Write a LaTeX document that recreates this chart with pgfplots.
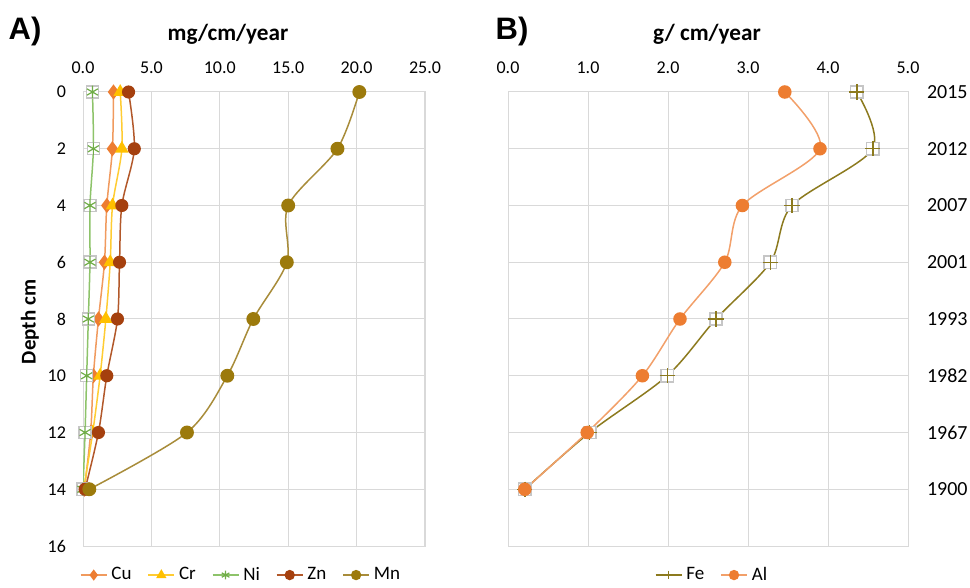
\documentclass[border=0pt]{standalone}
\usepackage{pgfplots}
\pgfplotsset{compat=1.18}
\usepackage{fontspec}
\setmainfont{Carlito}
\newfontfamily\arialb{Liberation Sans}
\definecolor{cu}{HTML}{ED7D31}
\definecolor{culine}{HTML}{F09A5E}
\definecolor{cr}{HTML}{FFC000}
\definecolor{crline}{HTML}{FFCC33}
\definecolor{ni}{HTML}{70AD47}
\definecolor{niline}{HTML}{8DC36A}
\definecolor{zn}{HTML}{A5400E}
\definecolor{znline}{HTML}{B2582A}
\definecolor{mn}{HTML}{9C7A0C}
\definecolor{mnline}{HTML}{A88C3A}
\definecolor{fe}{HTML}{8C7A1E}
\definecolor{al}{HTML}{ED7D31}
\definecolor{alline}{HTML}{F2A06A}
\definecolor{gridc}{HTML}{D9D9D9}
\begin{document}
\begin{tikzpicture}
\useasboundingbox (0pt,0pt) rectangle (485pt,294pt);
\pgfplotsset{
 common/.style={
  scale only axis, anchor=south west, height=227pt,
  y dir=reverse, ymin=0, ymax=16, ytick={0,2,...,16},
  xticklabel pos=upper,
  grid=major, major grid style={draw=gridc, line width=0.5pt},
  axis line style={draw=gridc, line width=0.5pt}, tick style={draw=none}, major tick length=0pt,
  tick label style={font=\fontsize{9}{10}\selectfont},
  /pgf/number format/assume math mode=true,
  x tick label style={yshift=5.5pt, /pgf/number format/.cd, fixed, fixed zerofill, precision=1, assume math mode=true},
  legend style={draw=none, fill=none, legend columns=-1, font=\fontsize{9.5}{10}\selectfont, anchor=center,
    /tikz/every even column/.append style={column sep=6pt}},
  legend image code/.code={\draw[mark repeat=2, mark phase=2, #1] plot coordinates {(0pt,0pt) (6.5pt,0pt) (13pt,0pt)};},
  legend image post style={mark size=2.2pt},
  every axis plot/.append style={line width=0.75pt, smooth, tension=0.5},
 }
}
% Panel A
\begin{axis}[common, at={(41.5pt,21pt)}, width=171pt,
  xmin=0, xmax=25, xtick={0,5,...,25},
  y tick label style={xshift=-5pt},
  legend style={at={(0.465,-0.064)}}]
\addplot[culine, mark=diamond*, mark size=3.2pt, mark options={fill=cu, draw=cu, solid}] coordinates {
 (2.23,0) (2.15,2) (1.74,4) (1.57,6) (1.13,8) (0.76,10) (0.56,12) (0.1,14)};
\addlegendentry{Cu}
\addplot[crline, mark=triangle*, mark size=3.2pt, mark options={fill=cr, draw=cr, solid}] coordinates {
 (2.72,0) (2.84,2) (2.16,4) (1.99,6) (1.67,8) (1.25,10) (0.71,12) (0.05,14)};
\addlegendentry{Cr}
\addplot[only marks, forget plot, mark=square*, mark size=3pt, mark options={fill=white, draw=gray!45}] coordinates {
 (0.69,0) (0.76,2) (0.51,4) (0.51,6) (0.39,8) (0.27,10) (0.15,12) (0.0,14)};
\addplot[niline, mark=asterisk, mark size=3.2pt, mark options={draw=ni, solid, line width=0.6pt}] coordinates {
 (0.69,0) (0.76,2) (0.51,4) (0.51,6) (0.39,8) (0.27,10) (0.15,12) (0.0,14)};
\addlegendentry{Ni}
\addplot[znline, mark=*, mark size=2.9pt, mark options={fill=zn, draw=zn, solid}] coordinates {
 (3.33,0) (3.75,2) (2.84,4) (2.67,6) (2.52,8) (1.74,10) (1.13,12) (0.15,14)};
\addlegendentry{Zn}
\addplot[mnline, mark=*, mark size=3.1pt, mark options={fill=mn, draw=mn, solid}] coordinates {
 (20.2,0) (18.6,2) (15.0,4) (14.9,6) (12.45,8) (10.55,10) (7.6,12) (0.46,14)};
\addlegendentry{Mn}
\end{axis}
% Panel B
\begin{axis}[common, at={(254pt,21pt)}, width=200pt,
  xmin=0, xmax=5, xtick={0,1,...,5},
  yticklabel pos=upper,
  yticklabels={2015,2012,2007,2001,1993,1982,1967,1900,{}},
  y tick label style={xshift=6pt, font=\fontsize{10}{11}\selectfont},
  legend style={at={(0.5125,-0.064)}}]
\addplot[only marks, forget plot, mark=square*, mark size=3.1pt, mark options={fill=white, draw=gray!45}] coordinates {
 (4.36,0) (4.56,2) (3.55,4) (3.28,6) (2.6,8) (1.99,10) (1.02,12) (0.21,14)};
\addplot[fe, mark=+, mark size=3.8pt, mark options={draw=fe, solid, line width=0.7pt}] coordinates {
 (4.36,0) (4.56,2) (3.55,4) (3.28,6) (2.6,8) (1.99,10) (1.02,12) (0.21,14)};
\addlegendentry{Fe}
\addplot[alline, mark=*, mark size=3.0pt, mark options={fill=al, draw=al, solid}] coordinates {
 (3.46,0) (3.9,2) (2.93,4) (2.71,6) (2.15,8) (1.68,10) (0.99,12) (0.21,14)};
\addlegendentry{Al}
\end{axis}
\node[font=\fontsize{15.5}{17}\selectfont\arialb\bfseries] at (12.5pt,278.5pt) {A)};
\node[font=\fontsize{11.6}{13}\selectfont\bfseries] at (114pt,277pt) {mg/cm/year};
\node[font=\fontsize{15.5}{17}\selectfont\arialb\bfseries] at (256pt,278.5pt) {B)};
\node[font=\fontsize{11.6}{13}\selectfont\bfseries] at (353.5pt,277pt) {g/ cm/year};
\node[font=\fontsize{10.5}{12}\selectfont\bfseries, rotate=90] at (15pt,133pt) {Depth cm};
\end{tikzpicture}
\end{document}
